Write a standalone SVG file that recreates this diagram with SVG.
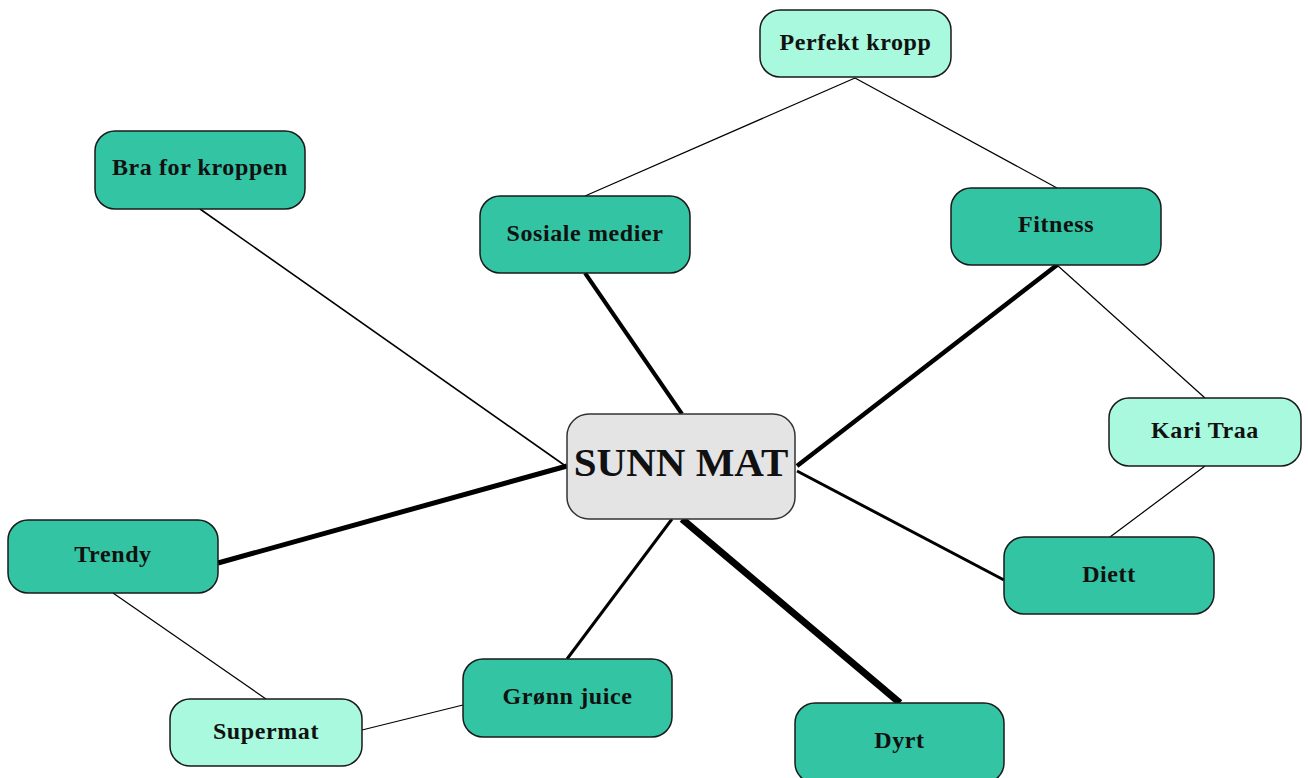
<svg xmlns="http://www.w3.org/2000/svg" width="1308" height="778" viewBox="0 0 1308 778">
  <style>
    .dark { fill: #33c4a3; stroke: #1a1a1a; stroke-width: 1.5; }
    .light { fill: #a8f9dd; stroke: #1a1a1a; stroke-width: 1.5; }
    .hub { fill: #e4e4e4; stroke: #333; stroke-width: 1.5; }
    .lbl { font-family: "Liberation Serif", "DejaVu Serif", serif; font-weight: bold; font-size: 24px; letter-spacing: 0.6px; fill: #111; text-anchor: middle; dominant-baseline: central; }
    .hublbl { font-family: "Liberation Serif", "DejaVu Serif", serif; font-weight: bold; font-size: 41px; fill: #111; text-anchor: middle; dominant-baseline: central; }
    .edge { stroke: #000; fill: none; stroke-linecap: butt; }
  </style>
  <rect width="1308" height="778" fill="#ffffff"/>

  <g id="connectors">
    <line class="edge" x1="855" y1="78" x2="585" y2="196" stroke-width="1.2"/>
    <line class="edge" x1="855" y1="78" x2="1057" y2="188" stroke-width="1.2"/>
    <line class="edge" x1="1057" y1="265" x2="1205" y2="398" stroke-width="1.2"/>
    <line class="edge" x1="1205" y1="466" x2="1110" y2="537" stroke-width="1.2"/>
    <line class="edge" x1="113" y1="593" x2="266" y2="699" stroke-width="1.2"/>
    <line class="edge" x1="362" y1="730" x2="463" y2="705" stroke-width="1.2"/>
    <line class="edge" x1="200" y1="209" x2="567" y2="467" stroke-width="1.6"/>
    <line class="edge" x1="585" y1="273" x2="682" y2="414" stroke-width="4"/>
    <line class="edge" x1="1057" y1="265" x2="797" y2="466" stroke-width="4.5"/>
    <line class="edge" x1="218" y1="563" x2="567" y2="466" stroke-width="5"/>
    <line class="edge" x1="1004" y1="580" x2="797" y2="471" stroke-width="3"/>
    <line class="edge" x1="567" y1="659" x2="672" y2="519" stroke-width="3"/>
    <line class="edge" x1="900" y1="703" x2="682" y2="519" stroke-width="7"/>
  </g>

  <g id="node-perfekt-kropp">
    <rect class="light" x="760" y="10" width="191" height="67" rx="20"/>
    <text class="lbl" x="855.5" y="42">Perfekt kropp</text>
  </g>
  <g id="node-bra-for-kroppen">
    <rect class="dark" x="95" y="131" width="210" height="78" rx="20"/>
    <text class="lbl" x="200" y="167">Bra for kroppen</text>
  </g>
  <g id="node-sosiale-medier">
    <rect class="dark" x="480" y="196" width="210" height="77" rx="20"/>
    <text class="lbl" x="585" y="233">Sosiale medier</text>
  </g>
  <g id="node-fitness">
    <rect class="dark" x="951" y="188" width="210" height="77" rx="20"/>
    <text class="lbl" x="1056" y="224">Fitness</text>
  </g>
  <g id="node-kari-traa">
    <rect class="light" x="1109" y="398" width="192" height="68" rx="20"/>
    <text class="lbl" x="1205" y="430">Kari Traa</text>
  </g>
  <g id="node-sunn-mat">
    <rect class="hub" x="567" y="414" width="228" height="105" rx="22"/>
    <text class="hublbl" x="681" y="462">SUNN MAT</text>
  </g>
  <g id="node-trendy">
    <rect class="dark" x="8" y="520" width="210" height="73" rx="20"/>
    <text class="lbl" x="113" y="554">Trendy</text>
  </g>
  <g id="node-diett">
    <rect class="dark" x="1004" y="537" width="210" height="77" rx="20"/>
    <text class="lbl" x="1109" y="574">Diett</text>
  </g>
  <g id="node-gronn-juice">
    <rect class="dark" x="463" y="659" width="209" height="78" rx="20"/>
    <text class="lbl" x="567.5" y="696">Grønn juice</text>
  </g>
  <g id="node-supermat">
    <rect class="light" x="170" y="699" width="192" height="67" rx="20"/>
    <text class="lbl" x="266" y="731">Supermat</text>
  </g>
  <g id="node-dyrt">
    <rect class="dark" x="795" y="703" width="209" height="80" rx="20"/>
    <text class="lbl" x="899.5" y="740">Dyrt</text>
  </g>
</svg>
